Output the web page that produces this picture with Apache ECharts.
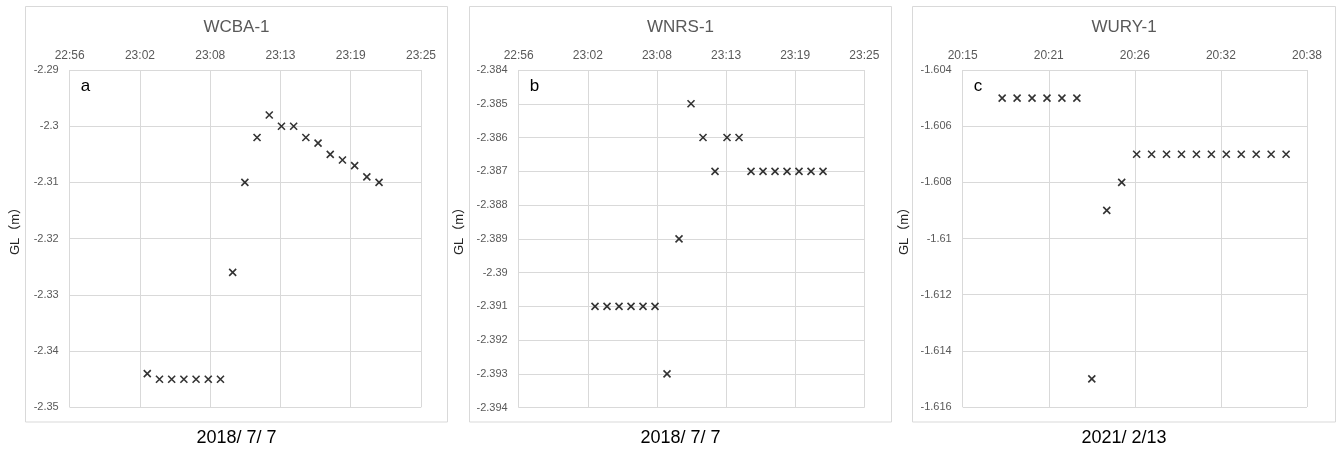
<!DOCTYPE html>
<html>
<head>
<meta charset="utf-8">
<script src="https://cdn.jsdelivr.net/npm/echarts@6/dist/echarts.min.js"></script>
<style>
  html, body { margin: 0; padding: 0; background: #fff; }
  #chart { width: 1339px; height: 450px; }
</style>
</head>
<body>
<div id="chart"></div>
<script>
// ---------- data ----------
const panelTitles = ['WCBA-1', 'WNRS-1', 'WURY-1'];
const panelLetters = ['a', 'b', 'c'];
const panelDates = ['2018/ 7/ 7', '2018/ 7/ 7', '2021/ 2/13'];

const timesA = ['23:03','23:04','23:05','23:06','23:07','23:08','23:09','23:10','23:11','23:12',
                '23:13','23:14','23:15','23:16','23:17','23:18','23:19','23:20','23:21','23:22'];
const valuesA = [-2.344,-2.345,-2.345,-2.345,-2.345,-2.345,-2.345,-2.326,-2.310,-2.302,
                 -2.298,-2.300,-2.300,-2.302,-2.303,-2.305,-2.306,-2.307,-2.309,-2.310];

const timesB = ['23:03','23:04','23:05','23:06','23:07','23:08','23:09','23:10','23:11','23:12',
                '23:13','23:14','23:15','23:16','23:17','23:18','23:19','23:20','23:21','23:22'];
const valuesB = [-2.391,-2.391,-2.391,-2.391,-2.391,-2.391,-2.393,-2.389,-2.385,-2.386,
                 -2.387,-2.386,-2.386,-2.387,-2.387,-2.387,-2.387,-2.387,-2.387,-2.387];

const timesC = ['20:18','20:19','20:20','20:21','20:22','20:23','20:24','20:25','20:26','20:27',
                '20:28','20:29','20:30','20:31','20:32','20:33','20:34','20:35','20:36','20:37'];
const valuesC = [-1.605,-1.605,-1.605,-1.605,-1.605,-1.605,-1.615,-1.609,-1.608,-1.607,
                 -1.607,-1.607,-1.607,-1.607,-1.607,-1.607,-1.607,-1.607,-1.607,-1.607];

// x tick labels (as Excel shows them)
const xTicksA = ['22:56','23:02','23:08','23:13','23:19','23:25'];
const xTicksB = ['22:56','23:02','23:08','23:13','23:19','23:25'];
const xTicksC = ['20:15','20:21','20:26','20:32','20:38'];

// x axis in units of 1/1000 day
const xRangeA = [956, 976];
const xRangeB = [956, 976];
const xRangeC = [844, 860];
const xStep = 4;

// y axis ranges
const yRangeA = [-2.35, -2.29], yStepA = 0.01;
const yRangeB = [-2.394, -2.384], yStepB = 0.001;
const yRangeC = [-1.616, -1.604], yStepC = 0.002;

// ---------- helpers ----------
function toMilliDay(t) {
  const p = t.split(':');
  const minutes = parseInt(p[0], 10) * 60 + parseInt(p[1], 10);
  return minutes / 1.44;
}
function pairs(times, values) {
  return times.map((t, i) => [toMilliDay(t), values[i]]);
}

const grids = [
  { left: 69.7, top: 70, width: 351.3, height: 337.3 },
  { left: 518.7, top: 70, width: 345.6, height: 337.7 },
  { left: 962.7, top: 70, width: 344.3, height: 337 }
];
const frames = [
  { x: 25.5, y: 6.5, w: 422, h: 415.5 },
  { x: 469.5, y: 6.5, w: 422, h: 415.5 },
  { x: 912.5, y: 6.5, w: 423, h: 415.5 }
];
const yNameX = [15, 459, 904];

const xRanges = [xRangeA, xRangeB, xRangeC];
const xTicks = [xTicksA, xTicksB, xTicksC];
const yRanges = [yRangeA, yRangeB, yRangeC];
const ySteps = [yStepA, yStepB, yStepC];
const seriesData = [pairs(timesA, valuesA), pairs(timesB, valuesB), pairs(timesC, valuesC)];

const gridLine = '#d9d9d9';
const tickColor = '#595959';
const font = 'Liberation Sans, Arial, sans-serif';

const xAxes = [], yAxes = [], series = [], graphics = [];
for (let i = 0; i < 3; i++) {
  const xr = xRanges[i], ticks = xTicks[i];
  xAxes.push({
    gridIndex: i, type: 'value', position: 'top',
    min: xr[0], max: xr[1], interval: xStep,
    axisLine: { show: false }, axisTick: { show: false },
    splitLine: { show: true, lineStyle: { color: gridLine, width: 1 } },
    axisLabel: {
      color: tickColor, fontSize: 12, fontFamily: font, margin: 8,
      formatter: (v) => ticks[Math.round((v - xr[0]) / xStep)] || ''
    }
  });
  yAxes.push({
    gridIndex: i, type: 'value',
    min: yRanges[i][0], max: yRanges[i][1], interval: ySteps[i],
    axisLine: { show: false }, axisTick: { show: false },
    splitLine: { show: true, lineStyle: { color: gridLine, width: 1 } },
    axisLabel: { color: tickColor, fontSize: 11, fontFamily: font, margin: 11 }
  });
  series.push({
    type: 'scatter', xAxisIndex: i, yAxisIndex: i,
    data: seriesData[i],
    symbol: 'path://M0,0L10,10M10,0L0,10',
    symbolSize: 7,
    itemStyle: { color: 'none', borderColor: '#000', borderWidth: 1.6 },
    emphasis: { disabled: true },
    silent: true
  });
  const f = frames[i];
  graphics.push({
    type: 'rect', silent: true, z: -1,
    shape: { x: f.x, y: f.y, width: f.w, height: f.h },
    style: { fill: 'none', stroke: gridLine, lineWidth: 1 }
  });
  const g = grids[i];
  graphics.push({
    type: 'text', silent: true,
    x: f.x + f.w / 2, y: 27,
    style: { text: panelTitles[i], fill: tickColor, font: '17px ' + font, textAlign: 'center', textVerticalAlign: 'middle' }
  });
  graphics.push({
    type: 'text', silent: true,
    x: f.x + f.w / 2, y: 438,
    style: { text: panelDates[i], fill: '#000', font: '18px ' + font, textAlign: 'center', textVerticalAlign: 'middle' }
  });
  graphics.push({
    type: 'text', silent: true,
    x: g.left + 11, y: 86,
    style: { text: panelLetters[i], fill: '#000', font: '17px ' + font, textAlign: 'left', textVerticalAlign: 'middle' }
  });
  graphics.push({
    type: 'text', silent: true,
    x: yNameX[i], y: 228, rotation: Math.PI / 2,
    style: { text: 'GL（m）', fill: '#262626', font: '13px ' + font + ', Noto Sans CJK JP', textAlign: 'center', textVerticalAlign: 'middle' }
  });
}

const chart = echarts.init(document.getElementById('chart'), null, { renderer: 'canvas' });
chart.setOption({
  animation: false,
  backgroundColor: '#fff',
  grid: grids,
  xAxis: xAxes,
  yAxis: yAxes,
  series: series,
  graphic: graphics
});
</script>
</body>
</html>
